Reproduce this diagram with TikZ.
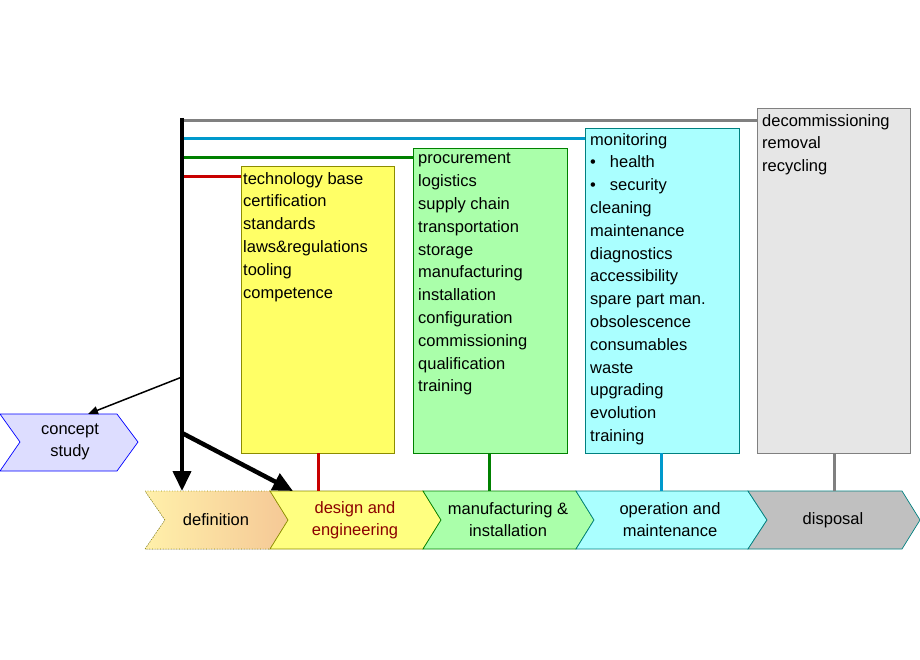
\documentclass[tikz,border=0pt]{standalone}
\usepackage{fontspec}
\usetikzlibrary{arrows.meta}
\setmainfont{Liberation Sans}
\definecolor{cred}{RGB}{200,0,0}
\definecolor{cgreen}{RGB}{0,128,0}
\definecolor{cblue}{RGB}{0,153,204}
\definecolor{cgray}{RGB}{128,128,128}
\definecolor{olive1}{RGB}{140,140,0}
\definecolor{teal1}{RGB}{0,128,128}
\begin{document}
\begin{tikzpicture}[x=1pt,y=-1pt,
  lst/.style={font=\fontsize{16.5}{22.8}\selectfont, align=left, anchor=north west, inner sep=0pt},
  box/.style={draw, line width=0.8pt},
  chev/.style={line width=0.7pt},
  ctext/.style={font=\fontsize{16.5}{22}\selectfont, align=center},
  conn/.style={line width=3pt}]
\useasboundingbox (0,0) rectangle (920,660);
% boxes
\filldraw[box, fill={rgb,255:red,255;green,255;blue,102}, draw=olive1] (241,166) rectangle (394,453);
\filldraw[box, fill={rgb,255:red,170;green,255;blue,170}, draw={rgb,255:red,0;green,130;blue,0}] (413,148) rectangle (567,453);
\filldraw[box, fill={rgb,255:red,170;green,255;blue,255}, draw=teal1] (585,128) rectangle (739,453);
\filldraw[box, fill={rgb,255:red,230;green,230;blue,230}, draw=cgray] (757,108) rectangle (910,453);
\coordinate (ya) at (241,177); \coordinate (ga) at (413,158); \coordinate (ca) at (585,139); \coordinate (da) at (757,121);
\node[lst] (ty) at (243,172) {technology base\\certification\\standards\\laws\&regulations\\tooling\\competence};
\node[lst] (tg) at (418,153) {procurement\\logistics\\supply chain\\transportation\\storage\\manufacturing\\installation\\configuration\\commissioning\\qualification\\training};
\node[lst] (tc) at (590,133) {monitoring\\\textbullet\hspace{14pt}health\\\textbullet\hspace{14pt}security\\cleaning\\maintenance\\diagnostics\\accessibility\\spare part man.\\obsolescence\\consumables\\waste\\upgrading\\evolution\\training};
\node[lst] (td) at (762,114) {decommissioning\\removal\\recycling};
% chevrons
\fill[left color={rgb,255:red,255;green,240;blue,170}, right color={rgb,255:red,245;green,200;blue,150}] (145,491) -- (270,491) -- (288,520) -- (270,549) -- (145,549) -- (165,520) -- cycle;
\draw[chev, dotted, draw=olive1] (145,491) -- (270,491) -- (288,520) -- (270,549) -- (145,549) -- (165,520) -- cycle;
\filldraw[chev, fill={rgb,255:red,255;green,255;blue,128}, draw=olive1] (270,491) -- (423,491) -- (441,520) -- (423,549) -- (270,549) -- (288,520) -- cycle;
\filldraw[chev, fill={rgb,255:red,170;green,255;blue,170}, draw={rgb,255:red,0;green,130;blue,0}] (423,491) -- (576,491) -- (594,520) -- (576,549) -- (423,549) -- (441,520) -- cycle;
\filldraw[chev, fill={rgb,255:red,170;green,255;blue,255}, draw=teal1] (576,491) -- (748,491) -- (767,520) -- (748,549) -- (576,549) -- (594,520) -- cycle;
\filldraw[chev, fill={rgb,255:red,192;green,192;blue,192}, draw=teal1] (748,491) -- (902,491) -- (920,520) -- (902,549) -- (748,549) -- (767,520) -- cycle;
\filldraw[chev, fill={rgb,255:red,221;green,221;blue,255}, draw=blue] (0,414) -- (117,414) -- (138,442) -- (117,471) -- (0,471) -- (20,442) -- cycle;
\node[ctext] (cs) at (70,442) {concept\\study};
\node[ctext] (def) at (216,520) {definition};
\node[ctext, text={rgb,255:red,140;green,0;blue,0}] (de) at (355,520) {design and\\engineering};
\node[ctext] (mi) at (508,520) {manufacturing \&\\installation};
\node[ctext] (om) at (670,520) {operation and\\maintenance};
\node[ctext] (dp) at (833,520) {disposal};
\coordinate (deT) at (318,491); \coordinate (miT) at (489,491); \coordinate (omT) at (661,491); \coordinate (dpT) at (834,491);
% vertical connectors
\draw[conn, cred] (318,453) -- (deT);
\draw[conn, cgreen] (489,453) -- (miT);
\draw[conn, cblue] (661,453) -- (omT);
\draw[conn, cgray] (834,453) -- (dpT);
% horizontal lines
\coordinate (top) at (182,118);
\draw[conn, cgray] (182,121) -- (da);
\draw[conn, cblue] (182,139) -- (ca);
\draw[conn, cgreen] (182,158) -- (ga);
\draw[conn, cred] (182,177) -- (ya);
% arrows
\draw[line width=4pt, -{Triangle[length=20pt,width=18pt]}] (top) -- (182,491);
\draw[line width=4.5pt, -{Triangle[length=20pt,width=18pt]}] (182,433) -- (293,491);
\draw[line width=1.5pt, -{Triangle[length=10pt,width=8pt]}] (182,377) -- (88,414);
\end{tikzpicture}
\end{document}
